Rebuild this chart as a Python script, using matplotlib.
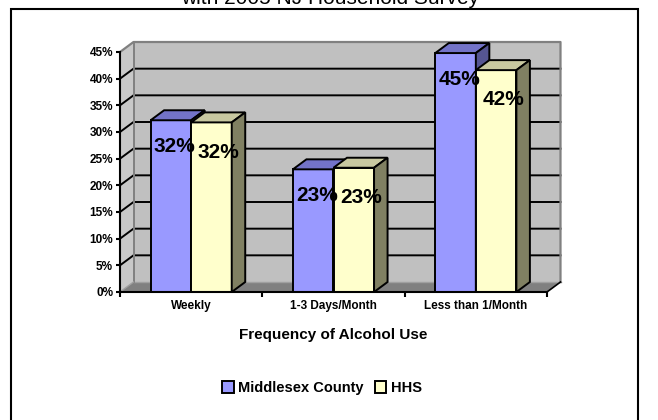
import numpy as np
import matplotlib
matplotlib.use("Agg")
import matplotlib.pyplot as plt
from matplotlib.patches import Rectangle, Patch

plt.rcParams["font.family"] = ["Liberation Sans", "DejaVu Sans"]

# data
categories = ["Weekly", "1-3 Days/Month", "Less than 1/Month"]
series_names = ["Middlesex County", "HHS"]
middlesex = [32.2, 23.0, 44.8]
hhs = [31.8, 23.3, 41.6]
y_ticks = list(range(0, 50, 5))

W, H = 658, 420
BLUE = ("#9999FF", "#7373C8", "#555592")   # front, top, side
CREAM = ("#FFFFCC", "#C8C8A0", "#808062")
WALL = "#C0C0C0"
FLOOR = "#808080"

fig = plt.figure(figsize=(W / 100, H / 100), dpi=100)

# front plane of the 3d box in pixels: x 120..547, y 292..52
ax = fig.add_axes([120 / W, 1 - 292 / H, 427 / W, 240 / H])
ax.set_xlim(0, 3)
ax.set_ylim(0, 45)
ax.patch.set_visible(False)
for s in ["top", "right"]:
    ax.spines[s].set_visible(False)
for s in ["left", "bottom"]:
    ax.spines[s].set_linewidth(1.5)
    ax.spines[s].set_zorder(5)

# depth of the walls / bars in data units
DX = 13.5 * 3 / 427
DY = 10 * 45 / 240
ytop = y_ticks[-1]

# walls and floor
ax.fill([DX, 3 + DX, 3 + DX, DX], [DY, DY, ytop + DY, ytop + DY],
        color=WALL, lw=0, zorder=0, clip_on=False)
ax.fill([0, DX, DX, 0], [0, DY, ytop + DY, ytop],
        color="#C8C8C8", lw=0, zorder=0, clip_on=False)
ax.fill([0, 3, 3 + DX, DX], [0, 0, DY, DY],
        color=FLOOR, lw=0, zorder=0, clip_on=False)
ax.plot([DX, 3 + DX], [DY, DY], color="#A0A0A0", lw=1.0, zorder=1, clip_on=False)
for v in y_ticks[1:-1]:
    ax.plot([0, DX, 3 + DX], [v, v + DY, v + DY], color="black", lw=1.4,
            zorder=1, clip_on=False)
ax.plot([0, DX, 3 + DX, 3 + DX], [ytop, ytop + DY, ytop + DY, DY],
        color="#808080", lw=1.6, zorder=1, clip_on=False)
ax.plot([DX, DX], [DY, ytop + DY], color="#808080", lw=1.4, zorder=1, clip_on=False)
ax.plot([0, DX], [0, DY], color="#A0A0A0", lw=1.0, zorder=1, clip_on=False)
ax.plot([3, 3 + DX], [0, DY], color="black", lw=1.2, zorder=1, clip_on=False)

# bars
w = 0.285
x = np.arange(len(categories)) + 0.5
offsets = [(2.5, -19), (5, -21.5)]
for i, (vals, cols) in enumerate([(middlesex, BLUE), (hhs, CREAM)]):
    z = 3 + i
    bars = ax.bar(x + (i - 0.5) * w, vals, w, color=cols[0], edgecolor="black",
                  linewidth=1.4, zorder=z)
    for r, v in zip(bars, vals):
        x0 = r.get_x()
        x1 = x0 + r.get_width()
        h = r.get_height()
        ax.fill([x0, x1, x1 + DX, x0 + DX], [h, h, h + DY, h + DY],
                facecolor=cols[1], edgecolor="black", lw=1.4, zorder=z, clip_on=False)
        ax.fill([x1, x1 + DX, x1 + DX, x1], [0, DY, h + DY, h],
                facecolor=cols[2], edgecolor="black", lw=1.4, zorder=z, clip_on=False)
        ax.annotate(f"{v:.0f}%", (r.get_x() + w / 2, h), xytext=offsets[i],
                    textcoords="offset points", ha="center", va="center",
                    fontsize=15, fontweight="bold", zorder=6)

# axes ticks
ax.set_yticks(y_ticks, [f"{t}%" for t in y_ticks], fontsize=8.5, fontweight="bold")
ax.tick_params(axis="y", direction="out", length=3, width=1.5, pad=2)
ax.set_xticks(x, categories, fontsize=8.5, fontweight="bold")
ax.set_xticks(range(len(categories) + 1), minor=True)
ax.tick_params(axis="x", which="major", length=0, pad=6)
ax.tick_params(axis="x", which="minor", length=3.5, width=1.5)

ax.set_xlabel("Frequency of Alcohol Use", fontsize=11, fontweight="bold", va="center")
ax.xaxis.set_label_coords(0.5, (292 - 335) / 240)

# title (cut off at the top in the reference)
fig.text(330 / W, 1 - 4 / H, "with 2005 NJ Household Survey", ha="center",
         va="baseline", fontsize=15)

# outer chart border
fig.add_artist(Rectangle((11 / W, -0.05), (638 - 11) / W, 1 - 9 / H + 0.05,
                         transform=fig.transFigure, fill=False, ec="black", lw=1.5))

handles = [Patch(facecolor=BLUE[0], edgecolor="black", linewidth=1.4, label=series_names[0]),
           Patch(facecolor=CREAM[0], edgecolor="black", linewidth=1.4, label=series_names[1])]
fig.legend(handles=handles, loc="center", bbox_to_anchor=(322 / W, 1 - 388 / H), ncol=2,
           frameon=False, prop={"weight": "bold", "size": 10.5}, handlelength=0.8,
           handleheight=0.8, handletextpad=0.3, columnspacing=0.75)

fig.savefig("out.png", dpi=100)
